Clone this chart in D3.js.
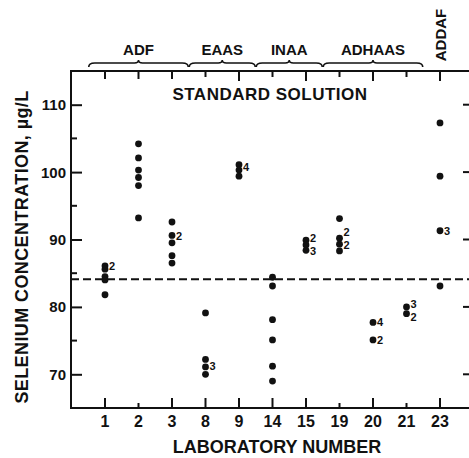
<!DOCTYPE html>
<html>
<head>
<meta charset="utf-8">
<script src="https://cdn.jsdelivr.net/npm/d3@7"></script>
<style>
  body { margin: 0; background: #fff; }
  text { font-family: "Liberation Sans", Arial, sans-serif; fill: #111; }
</style>
</head>
<body>
<div id="chart"></div>
<script>
// laboratory numbers along the bottom
var labs = ["1", "2", "3", "8", "9", "14", "15", "19", "20", "21", "23"];

// selenium results per laboratory (ug/L)
var lab1 = [86.1, 85.6, 84.5, 84.0, 81.8];
var lab2 = [104.2, 102.1, 100.3, 99.2, 98.0, 93.2];
var lab3 = [92.6, 90.6, 89.5, 87.6, 86.5];
var lab8 = [79.1, 72.2, 71.1, 70.0];
var lab9 = [101.1, 100.3, 99.4];
var lab14 = [84.4, 83.1, 78.1, 75.1, 71.2, 69.0];
var lab15 = [89.9, 89.2, 88.4];
var lab19 = [93.1, 90.2, 89.3, 88.3];
var lab20 = [77.7, 75.1];
var lab21 = [80.0, 79.0];
var lab23 = [107.3, 99.4, 91.3, 83.1];
var results = [lab1, lab2, lab3, lab8, lab9, lab14, lab15, lab19, lab20, lab21, lab23];

// replicate counts written next to the dots: [lab, value, count]
var notes = [
  ["1", 86.1, "2"], ["3", 90.5, "2"], ["8", 71.2, "3"], ["9", 100.8, "4"],
  ["15", 90.2, "2"], ["15", 88.3, "3"], ["19", 91.1, "2"], ["19", 89.2, "2"],
  ["20", 77.7, "4"], ["20", 75.1, "2"], ["21", 80.4, "3"], ["21", 78.5, "2"],
  ["23", 91.3, "3"]
];

// method groups over the top: [name, first lab, last lab]
var groups = [["ADF", "1", "3"], ["EAAS", "8", "9"], ["INAA", "14", "15"], ["ADHAAS", "19", "21"]];
var lastGroup = ["ADDAF", "23"];

var yTicks = [70, 80, 90, 100, 110];
var yMinor = [75, 85, 95, 105];
var standardValue = 84.1;

render();

function render() {
  var W = 469, H = 458;
  var left = 71, right = 471, top = 71, bottom = 408;

  var svg = d3.select("#chart")
    .append("svg")
    .attr("width", W)
    .attr("height", H);

  var xScale = d3.scalePoint()
    .domain(labs)
    .range([105, 440]);
  var step = xScale.step();

  var yScale = d3.scaleLinear()
    .domain([65, 115])
    .range([bottom, top]);

  // frame
  svg.append("rect")
    .attr("x", left)
    .attr("y", top)
    .attr("width", right - left)
    .attr("height", bottom - top)
    .attr("fill", "none")
    .attr("stroke", "#111")
    .attr("stroke-width", 2);

  // left axis, ticks pointing in
  var yAxis = svg.append("g")
    .attr("transform", "translate(" + left + ",0)")
    .call(d3.axisRight(yScale).tickValues(yTicks).tickSize(11).tickFormat(""));
  yAxis.select(".domain").remove();
  yAxis.selectAll("line").attr("stroke", "#111").attr("stroke-width", 2);

  svg.append("g")
    .selectAll("line")
    .data(yMinor)
    .enter()
    .append("line")
    .attr("x1", left)
    .attr("x2", left + 6)
    .attr("y1", function (d) { return yScale(d); })
    .attr("y2", function (d) { return yScale(d); })
    .attr("stroke", "#111")
    .attr("stroke-width", 2);

  svg.append("g")
    .selectAll("text")
    .data(yTicks)
    .enter()
    .append("text")
    .attr("x", left - 5)
    .attr("y", function (d) { return yScale(d); })
    .attr("dy", "0.36em")
    .attr("text-anchor", "end")
    .style("font-size", "15px")
    .style("font-weight", "bold")
    .text(function (d) { return d; });

  // right side ticks (frame edge is just off the picture)
  svg.append("g")
    .selectAll("line")
    .data(yTicks)
    .enter()
    .append("line")
    .attr("x1", right - 8)
    .attr("x2", right)
    .attr("y1", function (d) { return yScale(d); })
    .attr("y2", function (d) { return yScale(d); })
    .attr("stroke", "#111")
    .attr("stroke-width", 2);

  // bottom and top ticks
  var bottomLen = [10, 5, 10, 10, 10, 10, 10, 5, 10, 5, 10];
  var topLen = [8, 8, 8, 6, 10, 6, 10, 6, 10, 6, 10];
  svg.append("g")
    .selectAll("line")
    .data(labs)
    .enter()
    .append("line")
    .attr("x1", function (d) { return xScale(d); })
    .attr("x2", function (d) { return xScale(d); })
    .attr("y1", bottom)
    .attr("y2", function (d, i) { return bottom - bottomLen[i]; })
    .attr("stroke", "#111")
    .attr("stroke-width", 2);
  svg.append("g")
    .selectAll("line")
    .data(labs)
    .enter()
    .append("line")
    .attr("x1", function (d) { return xScale(d); })
    .attr("x2", function (d) { return xScale(d); })
    .attr("y1", top)
    .attr("y2", function (d, i) { return top + topLen[i]; })
    .attr("stroke", "#111")
    .attr("stroke-width", 2);

  svg.append("g")
    .selectAll("text")
    .data(labs)
    .enter()
    .append("text")
    .attr("x", function (d) { return xScale(d); })
    .attr("y", 427)
    .attr("text-anchor", "middle")
    .style("font-size", "16px")
    .style("font-weight", "bold")
    .text(function (d) { return d; });

  // axis titles
  svg.append("text")
    .attr("x", 277)
    .attr("y", 453)
    .attr("text-anchor", "middle")
    .style("font-size", "18px")
    .style("font-weight", "bold")
    .text("LABORATORY NUMBER");

  svg.append("text")
    .attr("transform", "translate(28,247) rotate(-90)")
    .attr("text-anchor", "middle")
    .style("font-size", "18px")
    .style("font-weight", "bold")
    .style("letter-spacing", "0.4px")
    .text("SELENIUM CONCENTRATION,  \u00b5g/L");

  svg.append("text")
    .attr("x", 270)
    .attr("y", 100)
    .attr("text-anchor", "middle")
    .style("font-size", "17px")
    .style("font-weight", "bold")
    .style("letter-spacing", "0.5px")
    .text("STANDARD SOLUTION");

  // dashed line for the standard value
  svg.append("line")
    .attr("x1", left)
    .attr("x2", right)
    .attr("y1", yScale(standardValue))
    .attr("y2", yScale(standardValue))
    .attr("stroke", "#111")
    .attr("stroke-width", 2)
    .attr("stroke-dasharray", "8,4");

  // dots
  var points = [];
  for (i = 0; i < labs.length; i++) {
    for (j = 0; j < results[i].length; j++) {
      points.push({ "lab": labs[i], "value": results[i][j] });
    }
  }
  svg.append("g")
    .selectAll("circle")
    .data(points)
    .enter()
    .append("circle")
    .attr("cx", function (d) { return xScale(d.lab); })
    .attr("cy", function (d) { return yScale(d.value); })
    .attr("r", 3.4)
    .attr("fill", "#111");

  svg.append("g")
    .selectAll("text")
    .data(notes)
    .enter()
    .append("text")
    .attr("x", function (d) { return xScale(d[0]) + 4; })
    .attr("y", function (d) { return yScale(d[1]); })
    .attr("dy", "0.36em")
    .style("font-size", "11px")
    .style("font-weight", "bold")
    .text(function (d) { return d[2]; });

  // method braces
  var braceY = 63;
  groups.forEach(function (g) {
    var x1 = xScale(g[1]) - step / 2 + 0.5;
    var x2 = xScale(g[2]) + step / 2 - 0.5;
    var m = (x1 + x2) / 2;
    var p = "M" + x1 + "," + (braceY + 4)
      + " Q" + x1 + "," + braceY + " " + (x1 + 6) + "," + braceY
      + " L" + (m - 4) + "," + braceY
      + " Q" + m + "," + braceY + " " + m + "," + (braceY - 3)
      + " Q" + m + "," + braceY + " " + (m + 4) + "," + braceY
      + " L" + (x2 - 6) + "," + braceY
      + " Q" + x2 + "," + braceY + " " + x2 + "," + (braceY + 4);
    svg.append("path")
      .attr("d", p)
      .attr("fill", "none")
      .attr("stroke", "#111")
      .attr("stroke-width", 1.6);
    svg.append("text")
      .attr("x", m)
      .attr("y", 55)
      .attr("text-anchor", "middle")
      .style("font-size", "15px")
      .style("font-weight", "bold")
      .text(g[0]);
  });

  svg.append("text")
    .attr("transform", "translate(" + (xScale(lastGroup[1]) + 1) + ",35) rotate(-90)")
    .attr("text-anchor", "middle")
    .attr("dy", "0.36em")
    .style("font-size", "15px")
    .style("font-weight", "bold")
    .text(lastGroup[0]);
}
</script>
</body>
</html>
